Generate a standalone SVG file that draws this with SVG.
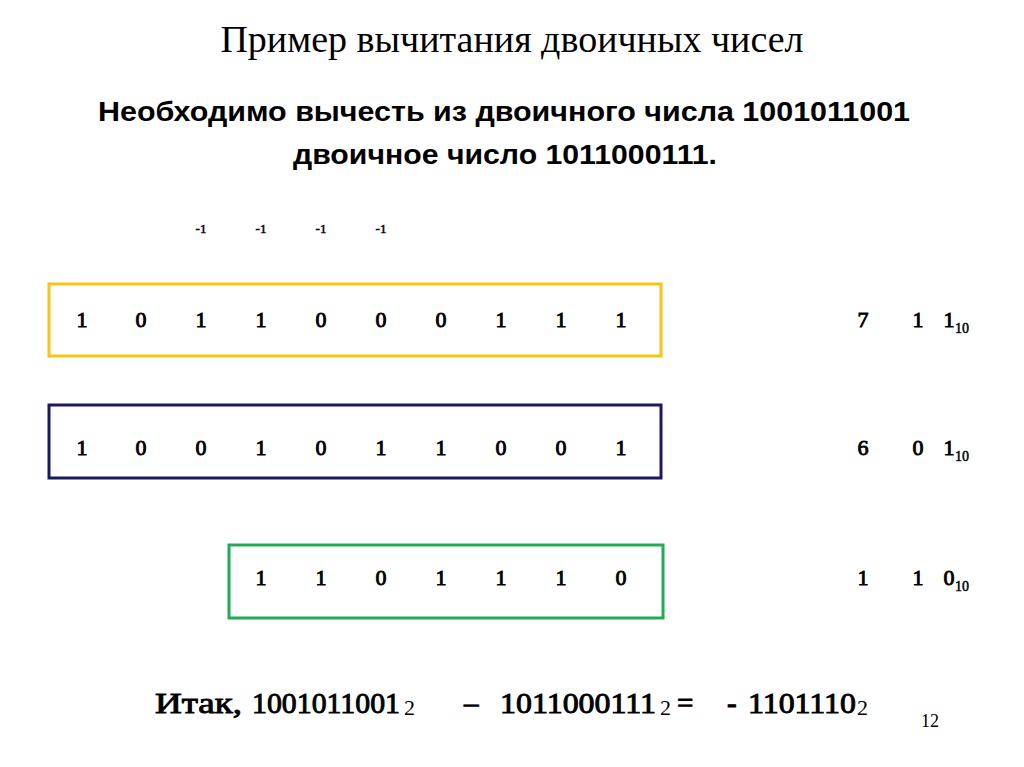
<svg xmlns="http://www.w3.org/2000/svg" width="1024" height="767" viewBox="0 0 1024 767">
<style>
.t{font-family:"Liberation Serif","DejaVu Serif",serif}
.b{font-family:"Liberation Serif","DejaVu Serif",serif;stroke:#000;stroke-width:0.9}
.d{font-size:22px;text-anchor:middle}
.sub{font-size:14px;text-anchor:start;stroke-width:0.5}
.box{fill:none;stroke-width:3}
</style>
<rect width="1024" height="767" fill="#fff"/>
<text class="t" x="512" y="52" font-size="38" text-anchor="middle">Пример вычитания двоичных чисел</text>
<g font-family="'Liberation Sans Narrow','Liberation Sans',sans-serif" font-weight="bold" font-size="27" text-anchor="middle">
<text x="504" y="121" textLength="812" lengthAdjust="spacingAndGlyphs">Необходимо вычесть из двоичного числа 1001011001</text>
<text x="505" y="164" textLength="424" lengthAdjust="spacingAndGlyphs">двоичное число 1011000111.</text>
</g>
<g class="b" font-size="13" text-anchor="middle" style="stroke-width:0.5">
<text x="201" y="233">-1</text><text x="261" y="233">-1</text><text x="321" y="233">-1</text><text x="381" y="233">-1</text>
</g>
<g id="row1">
<rect class="box" x="49" y="284" width="612" height="72" stroke="#f5c518"/>
<g class="b d"><text x="82" y="327">1</text><text x="141" y="327">0</text><text x="201" y="327">1</text><text x="261" y="327">1</text><text x="321" y="327">0</text><text x="381" y="327">0</text><text x="441" y="327">0</text><text x="501" y="327">1</text><text x="561" y="327">1</text><text x="621" y="327">1</text></g>
</g>
<g id="row2">
<rect class="box" x="49" y="405" width="612" height="73" stroke="#1a1a5e"/>
<g class="b d"><text x="82" y="455">1</text><text x="141" y="455">0</text><text x="201" y="455">0</text><text x="261" y="455">1</text><text x="321" y="455">0</text><text x="381" y="455">1</text><text x="441" y="455">1</text><text x="501" y="455">0</text><text x="561" y="455">0</text><text x="621" y="455">1</text></g>
</g>
<g id="row3">
<rect class="box" x="229" y="545" width="434" height="73" stroke="#22aa55"/>
<g class="b d"><text x="261" y="585">1</text><text x="321" y="585">1</text><text x="381" y="585">0</text><text x="441" y="585">1</text><text x="501" y="585">1</text><text x="561" y="585">1</text><text x="621" y="585">0</text></g>
</g>
<g class="b d">
<text x="863" y="327">7</text><text x="918" y="327">1</text><text x="949" y="327">1</text><text class="sub" x="955" y="333">10</text>
<text x="863" y="455">6</text><text x="918" y="455">0</text><text x="949" y="455">1</text><text class="sub" x="955" y="461">10</text>
<text x="863" y="585">1</text><text x="918" y="585">1</text><text x="949" y="585">0</text><text class="sub" x="955" y="591">10</text>
</g>
<g class="b" font-size="29">
<text x="155" y="713" textLength="87" lengthAdjust="spacingAndGlyphs">Итак,</text>
<text x="252" y="713" textLength="148" lengthAdjust="spacingAndGlyphs">1001011001</text>
<text x="464" y="713">–</text>
<text x="500" y="713" textLength="156" lengthAdjust="spacingAndGlyphs">1011000111</text>
<text x="677" y="713">=</text>
<text x="727" y="713">-</text>
<text x="748" y="713" textLength="108" lengthAdjust="spacingAndGlyphs">1101110</text>
</g>
<g class="t" font-size="22">
<text x="404" y="715">2</text><text x="660" y="715">2</text><text x="857" y="715">2</text>
</g>
<text class="t" x="930" y="727" font-size="18" text-anchor="middle">12</text>
</svg>
